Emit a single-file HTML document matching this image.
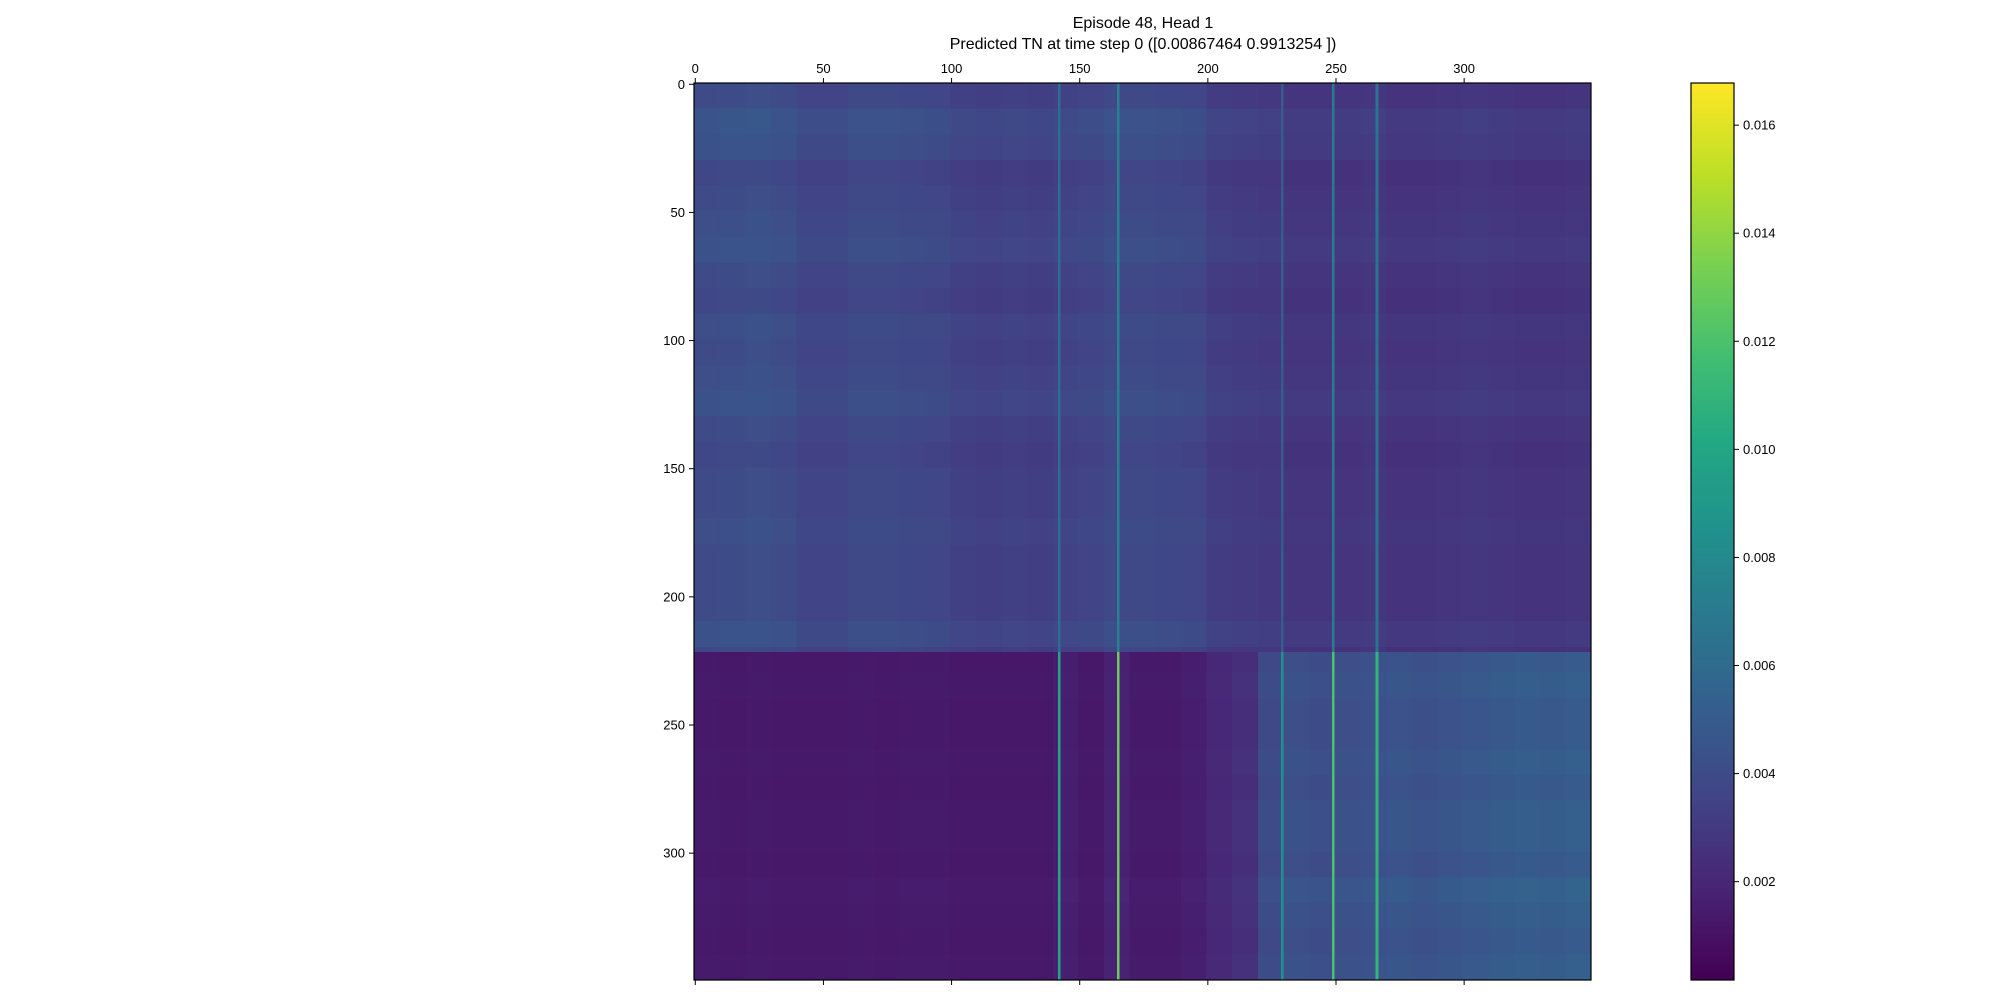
<!DOCTYPE html>
<html><head><meta charset="utf-8"><style>
body{margin:0;background:#fff;width:2000px;height:1000px;overflow:hidden;font-family:"Liberation Sans",sans-serif}
#hm{position:absolute;left:694px;top:83px;width:897px;height:897px;image-rendering:pixelated}
#cb{position:absolute;left:1691px;top:83px;width:43px;height:897px}
svg{position:absolute;left:0;top:0}
</style></head><body>
<canvas id="hm" width="350" height="350"></canvas>
<canvas id="cb" width="1" height="256"></canvas>
<svg id="ax" width="2000" height="1000"></svg>
<script>
// ---- data (per 10-column / 10-row blocks) ----
const colTop=[0.0039,0.0040,0.0041,0.0039,0.0035,0.0035,0.0038,0.0038,0.0037,0.0036,0.0033,0.0032,0.0033,0.0032,0.0034,0.0035,0.0038,0.0038,0.0037,0.0036,0.0031,0.0030,0.0029,0.0027,0.0027,0.0027,0.0028,0.0026,0.0026,0.0027,0.0028,0.0027,0.0026,0.0026,0.0027];
const colBot=[0.0014,0.0013,0.0014,0.0013,0.0013,0.0013,0.0014,0.0013,0.0014,0.0014,0.0013,0.0013,0.0013,0.0013,0.0016,0.0013,0.0018,0.0014,0.0014,0.0016,0.0021,0.0025,0.0040,0.0043,0.0042,0.0043,0.0045,0.0046,0.0044,0.0046,0.0048,0.0050,0.0051,0.0050,0.0052];
const rowScale=[1.0,1.15,1.1,0.95,1.0,1.05,1.1,1.0,0.95,1.05,1.0,1.05,1.1,1.0,0.95,1.0,1.0,1.05,1.0,1.0,1.0,1.1,0.95,1.0,0.95,0.95,1.0,0.95,1.0,1.0,0.95,1.05,1.0,0.95,1.0];
const regimeSplit=222;
const hiCols=[142,165,229,249,266];
const hiTop=[0.0060,0.0075,0.0050,0.0070,0.0065];
const hiBot=[0.0100,0.0130,0.0085,0.0120,0.0110];
const vmin=0.00018, vmax=0.01678;
const xTicks=[0,50,100,150,200,250,300];
const yTicks=[0,50,100,150,200,250,300];
const cbTicks=[0.002,0.004,0.006,0.008,0.010,0.012,0.014,0.016];
const cbLabels=["0.002","0.004","0.006","0.008","0.010","0.012","0.014","0.016"];
// ---- viridis ----
const V=[[68,1,84],[72,36,117],[65,68,135],[53,95,141],[42,120,142],[33,145,140],[34,168,132],[68,191,112],[122,209,81],[189,223,38],[253,231,37]];
function vir(t){t=Math.max(0,Math.min(1,t))*10;const i=Math.min(9,Math.floor(t)),f=t-i;return V[i].map((c,k)=>Math.round(c+(V[i+1][k]-c)*f));}
const N=350,L=694,T=83,S=897;
const hm=document.getElementById('hm').getContext('2d');
const img=hm.createImageData(N,N);
for(let i=0;i<N;i++)for(let j=0;j<N;j++){
  const top=i<regimeSplit;
  let v=(top?colTop:colBot)[Math.floor(j/10)]*rowScale[Math.floor(i/10)];
  const h=hiCols.indexOf(j);if(h>=0)v=top?hiTop[h]:hiBot[h];
  const c=vir((v-vmin)/(vmax-vmin));const p=(i*N+j)*4;
  img.data[p]=c[0];img.data[p+1]=c[1];img.data[p+2]=c[2];img.data[p+3]=255;}
hm.putImageData(img,0,0);
const cb=document.getElementById('cb').getContext('2d');
for(let k=0;k<256;k++){const c=vir(1-k/255);cb.fillStyle=`rgb(${c})`;cb.fillRect(0,k,1,1);}
// ---- axes ----
const ns='http://www.w3.org/2000/svg',svg=document.getElementById('ax');
function el(t,a,txt){const e=document.createElementNS(ns,t);for(const k in a)e.setAttribute(k,a[k]);if(txt!==undefined)e.textContent=txt;svg.appendChild(e);return e;}
const sx=v=>L+(v+0.5)*S/N, sy=v=>T+(v+0.5)*S/N, cy=v=>980-(v-vmin)/(vmax-vmin)*897;
let e=el('rect',{x:L,y:T,width:S,height:S,fill:'none',stroke:'#000','stroke-width':1.2});


e=el('rect',{x:1691,y:83,width:43,height:897,fill:'none',stroke:'#000','stroke-width':1.2});


xTicks.forEach(v=>{const x=sx(v);
  el('line',{x1:x,x2:x,y1:T,y2:T-5,stroke:'#000'});el('line',{x1:x,x2:x,y1:T+S,y2:T+S+5,stroke:'#000'});
  e=el('text',{x:x,y:T-10,'font-size':13,'text-anchor':'middle'},String(v));
  
  });
yTicks.forEach(v=>{const y=sy(v);
  el('line',{x1:L,x2:L-5,y1:y,y2:y,stroke:'#000'});
  e=el('text',{x:L-9,y:y+4.5,'font-size':13,'text-anchor':'end'},String(v));
  
  });
cbTicks.forEach((v,k)=>{const y=cy(v);
  el('line',{x1:1734,x2:1739,y1:y,y2:y,stroke:'#000'});
  e=el('text',{x:1743,y:y+4.5,'font-size':13},cbLabels[k]);
  
  });
e=el('text',{x:1143,y:28,'font-size':16,'text-anchor':'middle'},'Episode 48, Head 1');


e=el('text',{x:1143,y:49,'font-size':16,'text-anchor':'middle'},'Predicted TN at time step 0 ([0.00867464 0.9913254 ])');


</script>
</body></html>
